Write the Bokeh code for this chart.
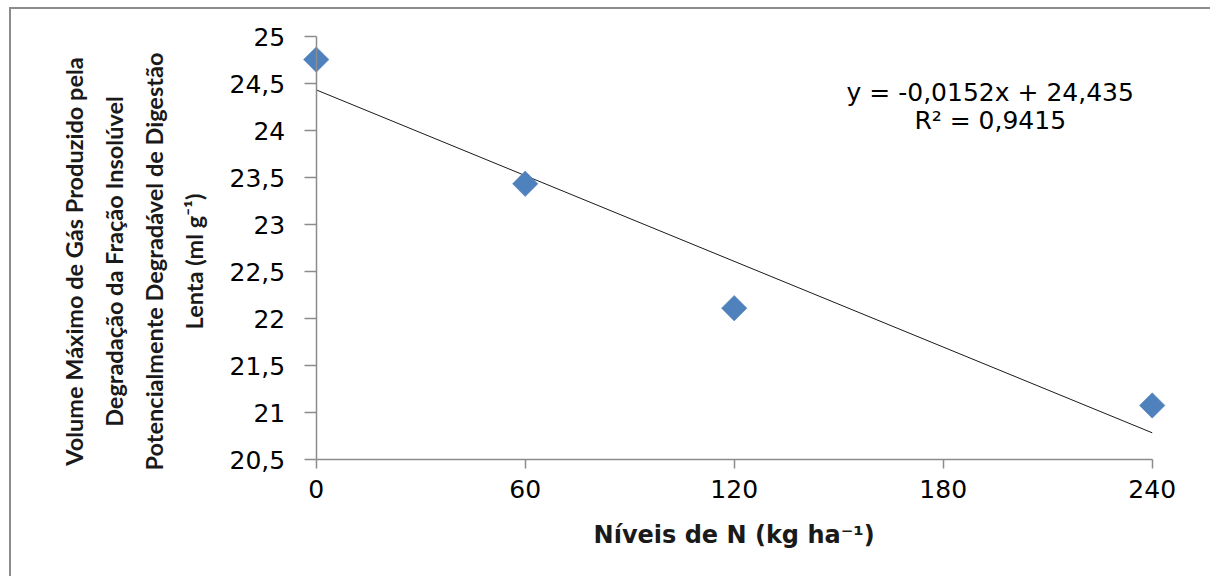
import math
from bokeh.plotting import figure
from bokeh.models import Label, FixedTicker, CustomJSTickFormatter, Range1d
from bokeh.embed import file_html
from bokeh.resources import INLINE

# ---- data ----
n_levels = [0, 60, 120, 240]
gas_volume = [24.757, 23.436, 22.113, 21.078]

trend_slope = -0.0152
trend_intercept = 24.435
trend_x = [0, 240]
r_squared = "0,9415"

x_ticks = [0, 60, 120, 180, 240]
x_tick_labels = ["0", "60", "120", "180", "240"]
y_ticks = [20.5, 21, 21.5, 22, 22.5, 23, 23.5, 24, 24.5, 25]
y_tick_labels = ["20,5", "21", "21,5", "22", "22,5", "23", "23,5", "24", "24,5", "25"]

y_title_lines = [
    "Volume Máximo de Gás Produzido pela",
    "Degradação da Fração Insolúvel",
    "Potencialmente Degradável de Digestão",
    "Lenta (ml g\u207b\u00b9)",
]
x_title = "Níveis de N (kg ha\u207b\u00b9)"
equation_text = "y = -0,0152x + 24,435"
r2_text = "R\u00b2 = " + r_squared

# ---- figure ----
# The frame fills the whole figure (so nothing outside the axes gets clipped);
# both axes are pinned at the data origin of the chart (x = 0, y = 20.5).
p = figure(width=1201, height=569, output_backend="svg", toolbar_location=None,
           x_range=Range1d(-87.48, 257.31), y_range=Range1d(19.237, 25.290),
           min_border_left=0, min_border_right=0, min_border_top=0, min_border_bottom=0)
p.margin = (7, 0, 0, 9)
p.styles = {"border-left": "2px solid #8c8c8c", "border-top": "2px solid #8c8c8c"}
p.outline_line_color = None
p.grid.grid_line_color = None
p.background_fill_color = "white"
p.border_fill_color = "white"

tick_code = "const i = tvals.findIndex(t => Math.abs(t - tick) < 1e-9); return i >= 0 ? tlabels[i] : '';"

p.xaxis.ticker = FixedTicker(ticks=x_ticks)
p.xaxis.formatter = CustomJSTickFormatter(args=dict(tvals=x_ticks, tlabels=x_tick_labels), code=tick_code)
p.xaxis.bounds = (x_ticks[0], x_ticks[-1])
p.xaxis.fixed_location = y_ticks[0]
p.yaxis.ticker = FixedTicker(ticks=y_ticks)
p.yaxis.formatter = CustomJSTickFormatter(args=dict(tvals=y_ticks, tlabels=y_tick_labels), code=tick_code)
p.yaxis.bounds = (y_ticks[0], y_ticks[-1])
p.yaxis.fixed_location = x_ticks[0]

for ax in (p.xaxis[0], p.yaxis[0]):
    ax.axis_line_color = "#8c8c8c"
    ax.axis_line_width = 1.5
    ax.major_tick_line_color = "#8c8c8c"
    ax.major_tick_line_width = 1.5
    ax.major_tick_in = 0
    ax.minor_tick_line_color = None
    ax.major_label_text_font = "DejaVu Sans"
    ax.major_label_text_font_size = "25px"
    ax.major_label_text_color = "black"

p.xaxis.major_tick_out = 9
p.yaxis.major_tick_out = 12
p.xaxis.major_label_standoff = 11
p.yaxis.major_label_standoff = 19

# x title (placed under the middle of the x axis)
p.add_layout(Label(x=120, y=19.695, text=x_title, text_align="center", text_baseline="middle",
                   text_font="DejaVu Sans", text_font_style="bold", text_font_size="24px",
                   text_color="#1a1a1a"))

# trend line
trend_y = [trend_intercept + trend_slope * x for x in trend_x]
p.line(trend_x, trend_y, line_color="#1a1a1a", line_width=1)

# data points
p.scatter(n_levels, gas_volume, marker="square", size=18, angle=math.pi / 4,
          fill_color="#4f81bd", line_color="#4f81bd", line_width=0.5)

# equation
p.add_layout(Label(x=193.5, y=24.407, text=equation_text, text_align="center", text_baseline="middle",
                   text_font="DejaVu Sans", text_font_size="25px", text_color="black"))
p.add_layout(Label(x=193.5, y=24.11, text=r2_text, text_align="center", text_baseline="middle",
                   text_font="DejaVu Sans", text_font_size="25px", text_color="black"))

# rotated y title (four centred lines)
for i, line in enumerate(y_title_lines):
    p.add_layout(Label(x=62 + 40 * i, y=317, x_units="screen", y_units="screen", text=line,
                       angle=math.pi / 2, text_align="center", text_baseline="middle",
                       text_font="Lato", text_font_style="bold", text_font_size="23.5px",
                       text_color="#1a1a1a"))

open("out.html", "w").write(file_html(p, INLINE))
